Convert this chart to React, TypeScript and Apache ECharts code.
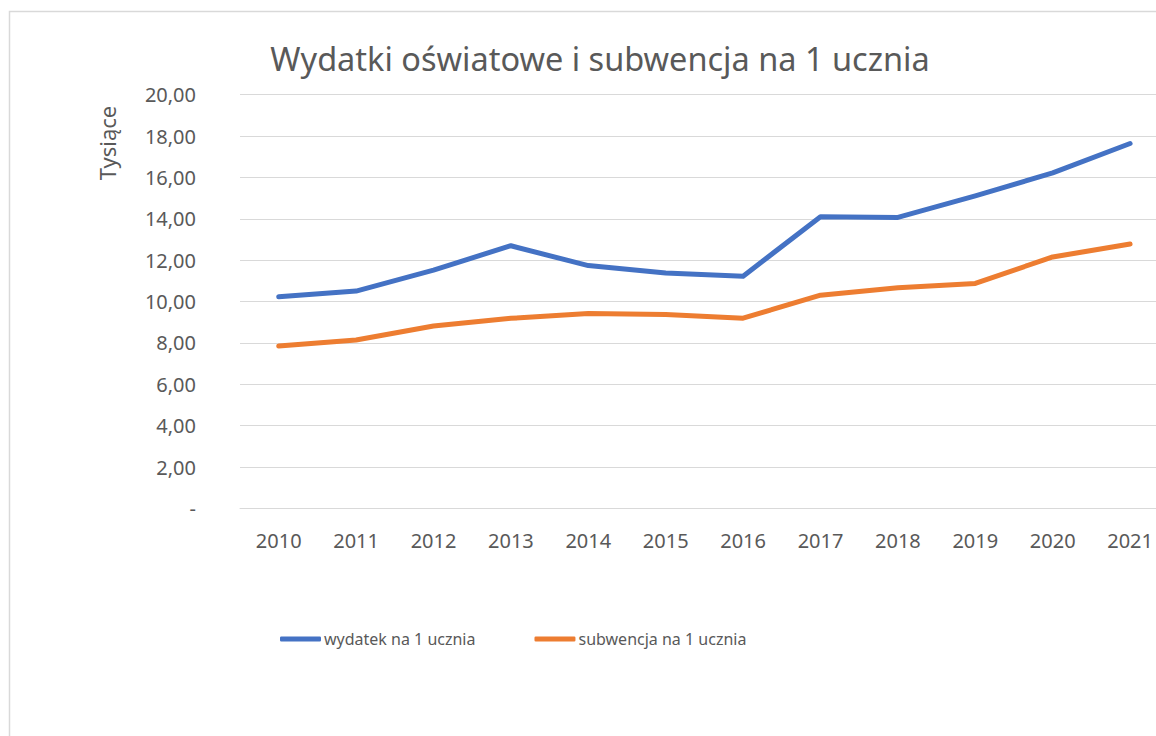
import React, { useEffect, useRef } from "react";
import * as echarts from "echarts";

const years = ["2010", "2011", "2012", "2013", "2014", "2015", "2016", "2017", "2018", "2019", "2020", "2021"];
const wydatek = [10.23, 10.51, 11.52, 12.7, 11.74, 11.38, 11.23, 14.1, 14.07, 15.11, 16.22, 17.64];
const subwencja = [7.85, 8.14, 8.82, 9.19, 9.43, 9.38, 9.2, 10.31, 10.67, 10.88, 12.16, 12.78];
const seriesNames = ["wydatek na 1 ucznia", "subwencja na 1 ucznia"];
const title = "Wydatki oświatowe i subwencja na 1 ucznia";
const axisName = "Tysiące";

const FONT = "'Noto Sans', 'Open Sans', sans-serif";
const TEXT = "#595959";

export default function App() {
  const ref = useRef<HTMLDivElement>(null);
  useEffect(() => {
    document.documentElement.style.overflow = "hidden";
    document.body.style.overflow = "hidden";
    if (!ref.current) return;
    const chart = echarts.init(ref.current, undefined, { renderer: "svg" });
    chart.setOption({
      animation: false,
      backgroundColor: "#ffffff",
      textStyle: { fontFamily: FONT },
      title: {
        text: title,
        left: 587,
        top: 29,
        textAlign: "center",
        textStyle: { fontFamily: FONT, fontSize: 32.5, fontWeight: "normal", color: TEXT },
      },
      graphic: [
        {
          type: "rect",
          shape: { x: 1.5, y: 3.5, width: 1400, height: 900 },
          style: { fill: "none", stroke: "#d9d9d9", lineWidth: 1.5 },
          silent: true,
        },
        {
          type: "text",
          x: 99,
          y: 135,
          rotation: Math.PI / 2,
          style: {
            text: axisName,
            fill: TEXT,
            font: `22px ${FONT}`,
            align: "center",
            verticalAlign: "middle",
          },
        },
      ],
      legend: {
        left: 267,
        top: 618,
        itemWidth: 41,
        itemHeight: 5,
        itemGap: 59,
        icon: "roundRect",
        textStyle: { fontFamily: FONT, fontSize: 16, color: TEXT, padding: [0, 0, 0, -2] },
        data: seriesNames,
      },
      grid: { left: 232, top: 86.7, height: 413.8, width: 928.8 },
      xAxis: {
        type: "category",
        data: years,
        boundaryGap: true,
        axisLine: { show: true, lineStyle: { color: "#d9d9d9", width: 1 } },
        axisTick: { show: false },
        axisLabel: { color: TEXT, fontFamily: FONT, fontSize: 20, margin: 22 },
      },
      yAxis: {
        type: "value",
        min: 0,
        max: 20,
        interval: 2,
        axisLine: { show: false },
        axisTick: { show: false },
        splitLine: { lineStyle: { color: "#d9d9d9", width: 1 } },
        axisLabel: {
          color: TEXT,
          fontFamily: FONT,
          fontSize: 20,
          margin: 44,
          formatter: (v: number) => (v === 0 ? "-" : v.toFixed(2).replace(".", ",")),
        },
      },
      series: [
        {
          name: seriesNames[0],
          type: "line",
          data: wydatek,
          symbol: "none",
          color: "#4472C4",
          lineStyle: { width: 5, color: "#4472C4", cap: "round", join: "round" },
        },
        {
          name: seriesNames[1],
          type: "line",
          data: subwencja,
          symbol: "none",
          color: "#ED7D31",
          lineStyle: { width: 5, color: "#ED7D31", cap: "round", join: "round" },
        },
      ],
    });
    return () => chart.dispose();
  }, []);
  return (
    <div style={{ position: "fixed", left: 8, top: 8, width: 1148, height: 728, overflow: "hidden" }}>
      <div ref={ref} style={{ width: 1200, height: 728, position: "absolute", left: 0, top: 0 }} />
    </div>
  );
}
